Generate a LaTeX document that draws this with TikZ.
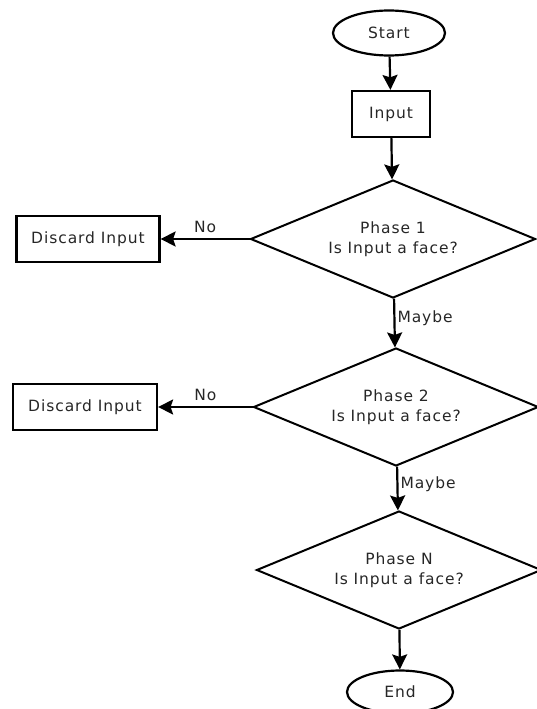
\documentclass[tikz,border=0pt]{standalone}
\usepackage{fontspec}
\setmainfont{DejaVu Sans}[LetterSpace=6]
\usetikzlibrary{arrows.meta, shapes.geometric, positioning}

\definecolor{inkgray}{HTML}{262626}

\tikzset{
    terminal/.style={draw, ellipse, line width=2.2pt, minimum width=112pt, minimum height=45pt, inner sep=0pt},
    process/.style={draw, rectangle, line width=2.2pt, minimum height=46pt, inner sep=0pt},
    decision/.style={draw, diamond, aspect=2.4, line width=2pt, minimum width=285pt, minimum height=118pt, inner sep=0pt, align=center},
    flowarrow/.style={line width=2.2pt, -{Stealth[length=15pt, width=15pt, inset=2.5pt]}},
    branchlabel/.style={text=inkgray},
}

\begin{document}
\begin{tikzpicture}[x=1pt, y=-1pt, font=\fontsize{15.5}{20}\selectfont, text=inkgray]

\useasboundingbox (0,0) rectangle (537,709);
\clip (0,0) rectangle (537,709);

% main column
\node[terminal] (start) at (389,33) {Start};
\node[process, minimum width=78pt] (input) at (391,114) {Input};
\node[decision] (phase1) at (393,239) {Phase 1\\Is Input a face?};
\node[decision] (phase2) at (396,407) {Phase 2\\Is Input a face?};
\node[decision] (phaseN) at (399,570) {Phase N\\Is Input a face?};
\node[terminal, minimum width=106pt, minimum height=43pt] (end) at (400,692) {End};

% rejected inputs
\node[process, minimum width=143pt] (discard1) at (88,239) {Discard Input};
\node[process, minimum width=144pt] (discard2) at (85,407) {Discard Input};

\draw[flowarrow] (start) -- (input);
\draw[flowarrow] (input) -- (phase1);
\draw[flowarrow] (phase1) -- node[branchlabel, above, inner sep=5pt] {No} (discard1);
\draw[flowarrow] (phase1) -- node[branchlabel, right, pos=0.4, inner sep=2pt] {Maybe} (phase2);
\draw[flowarrow] (phase2) -- node[branchlabel, above, inner sep=5pt] {No} (discard2);
\draw[flowarrow] (phase2) -- node[branchlabel, right, pos=0.4, inner sep=2pt] {Maybe} (phaseN);
\draw[flowarrow] (phaseN) -- (end);

\end{tikzpicture}
\end{document}
